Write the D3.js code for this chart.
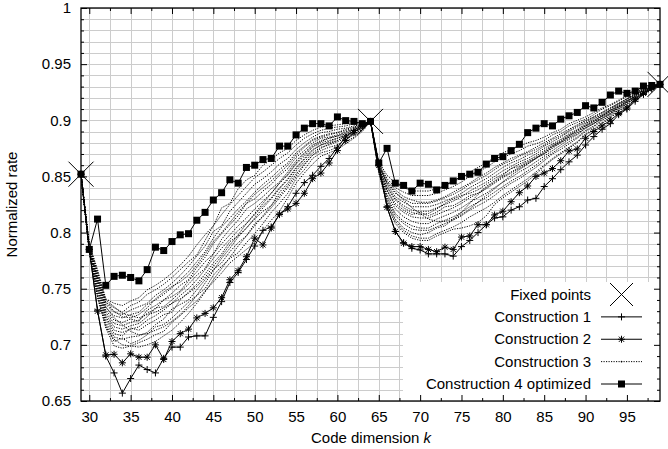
<!DOCTYPE html>
<html>
<head>
<meta charset="utf-8">
<script src="https://cdn.jsdelivr.net/npm/d3@7/dist/d3.min.js"></script>
<style>
  html, body { margin: 0; padding: 0; background: #fff; }
  svg { display: block; font-family: "Liberation Sans", Arial, Helvetica, sans-serif; }
</style>
</head>
<body>
<div id="chart"></div>
<script>
// code dimensions k
const codeDims = [29,30,31,32,33,34,35,36,37,38,39,40,41,42,43,44,45,46,47,48,49,50,51,52,53,54,55,56,57,58,59,60,61,62,63,64,
  65,66,67,68,69,70,71,72,73,74,75,76,77,78,79,80,81,82,83,84,85,86,87,88,89,90,91,92,93,94,95,96,97,98,99];

const fixedK = [29, 64, 99];
const fixedRate = [0.852, 0.899, 0.932];

const construction1 = [.852,.785,.731,.690,.675,.657,.670,.682,.678,.675,.688,.698,.698,.707,.708,.708,.7245,.7385,.7555,.7645,.776,.788,.802,.805,.816,.823,.835,.8445,.851,.859,.866,.876,.885,.891,.896,.899,
  .860,.823,.801,.791,.786,.7845,.781,.781,.781,.779,.7875,.793,.800,.807,.813,.814,.820,.823,.829,.8305,.841,.848,.856,.863,.869,.878,.8855,.892,.897,.905,.910,.917,.923,.928,.932];

const construction2 = [.852,.785,.730,.691,.6916,.684,.692,.689,.689,.700,.687,.703,.710,.714,.724,.728,.733,.742,.758,.766,.7785,.795,.789,.804,.8165,.821,.826,.835,.848,.853,.862,.873,.882,.889,.895,.899,
  .860,.8225,.801,.7905,.7875,.7875,.785,.783,.787,.785,.796,.797,.807,.807,.8157,.819,.8275,.8355,.8415,.850,.853,.857,.864,.8726,.8745,.884,.890,.895,.900,.906,.911,.9187,.924,.929,.932];

const construction4 = [.852,.785,.812,.753,.761,.762,.760,.757,.767,.787,.784,.792,.798,.799,.811,.818,.829,.8355,.847,.844,.858,.860,.865,.866,.877,.877,.887,.893,.897,.897,.895,.903,.8997,.899,.897,.899,
  .862,.875,.844,.842,.837,.844,.843,.838,.842,.846,.850,.852,.8537,.861,.866,.8676,.873,.8786,.889,.893,.897,.895,.901,.904,.907,.913,.911,.916,.9225,.926,.924,.926,.9305,.931,.932];

// construction 3: one run per row
const construction3 = [
  [.852,.782,.743,.715,.699,.697,.699,.702,.705,.709,.712,.720,.726,.733,.739,.748,.756,.764,.773,.779,.785,.791,.802,.811,.819,.831,.844,.853,.861,.868,.871,.874,.879,.884,.890,.899,
   .854,.826,.810,.802,.797,.795,.795,.799,.802,.805,.809,.814,.818,.822,.827,.833,.838,.843,.848,.854,.860,.866,.871,.876,.881,.888,.892,.898,.903,.909,.913,.918,.923,.927,.932],
  [.852,.783,.745,.718,.703,.706,.701,.704,.709,.716,.718,.724,.731,.738,.744,.750,.762,.770,.777,.782,.791,.799,.808,.818,.826,.835,.848,.856,.866,.871,.873,.876,.881,.885,.891,.899,
   .856,.834,.821,.814,.810,.808,.808,.812,.815,.818,.822,.827,.831,.835,.840,.845,.849,.854,.858,.863,.868,.873,.878,.883,.887,.893,.897,.902,.906,.912,.916,.921,.925,.928,.932],
  [.852,.784,.748,.720,.707,.705,.707,.708,.711,.718,.723,.732,.736,.740,.749,.758,.767,.773,.783,.791,.797,.808,.814,.822,.831,.840,.850,.860,.869,.873,.876,.878,.883,.887,.892,.899,
   .853,.825,.808,.800,.795,.793,.793,.797,.800,.803,.804,.806,.809,.815,.825,.831,.836,.841,.846,.852,.859,.865,.870,.875,.880,.887,.891,.897,.902,.908,.912,.918,.923,.927,.932],
  [.852,.784,.750,.723,.710,.708,.715,.713,.718,.722,.727,.729,.740,.747,.754,.763,.773,.781,.792,.797,.804,.812,.819,.824,.836,.844,.855,.863,.871,.876,.878,.881,.884,.888,.892,.899,
   .859,.841,.830,.824,.820,.819,.819,.822,.825,.828,.832,.837,.841,.845,.850,.855,.859,.863,.866,.870,.875,.879,.883,.888,.892,.897,.901,.905,.909,.914,.918,.923,.927,.929,.932],
  [.852,.785,.752,.725,.713,.711,.714,.716,.722,.726,.731,.737,.744,.750,.758,.767,.777,.786,.794,.802,.808,.816,.824,.831,.840,.848,.858,.866,.874,.878,.880,.882,.886,.889,.893,.899,
   .855,.830,.815,.808,.803,.802,.802,.805,.808,.811,.815,.820,.824,.828,.833,.839,.844,.848,.853,.858,.864,.870,.874,.879,.884,.890,.894,.900,.904,.910,.914,.920,.924,.928,.932],
  [.852,.786,.754,.727,.716,.714,.717,.719,.725,.733,.734,.740,.747,.754,.762,.768,.781,.790,.798,.806,.813,.821,.828,.835,.844,.851,.861,.868,.876,.880,.882,.884,.887,.890,.894,.899,
   .860,.844,.835,.830,.826,.826,.826,.828,.831,.834,.838,.843,.847,.851,.856,.861,.864,.868,.871,.874,.878,.883,.886,.891,.895,.899,.903,.907,.911,.915,.919,.924,.927,.930,.932],
  [.852,.786,.756,.729,.719,.717,.720,.722,.728,.732,.740,.743,.748,.757,.765,.774,.781,.794,.803,.811,.821,.826,.832,.839,.845,.854,.864,.871,.878,.882,.884,.886,.888,.891,.894,.899,
   .857,.837,.824,.818,.814,.813,.813,.816,.819,.822,.826,.831,.835,.839,.844,.849,.853,.857,.861,.866,.871,.876,.880,.885,.889,.894,.898,.903,.907,.912,.916,.922,.926,.929,.932],
  [.852,.787,.757,.731,.722,.720,.723,.721,.731,.735,.740,.746,.753,.758,.769,.778,.790,.799,.807,.815,.826,.830,.837,.843,.851,.857,.867,.873,.880,.884,.885,.887,.890,.892,.895,.899,
   .862,.848,.840,.836,.833,.833,.833,.835,.838,.841,.845,.850,.854,.858,.863,.867,.870,.873,.877,.879,.882,.887,.890,.895,.898,.901,.905,.910,.913,.917,.921,.925,.928,.931,.932],
  [.852,.788,.760,.733,.726,.724,.727,.729,.736,.740,.745,.751,.758,.765,.774,.783,.795,.805,.813,.821,.828,.836,.843,.849,.856,.862,.871,.877,.883,.886,.888,.889,.892,.894,.896,.899,
   .858,.838,.826,.820,.816,.818,.815,.818,.823,.824,.828,.833,.835,.841,.846,.851,.857,.859,.863,.867,.870,.877,.881,.886,.891,.895,.899,.904,.908,.913,.917,.922,.926,.929,.932],
  [.852,.788,.762,.736,.729,.727,.731,.734,.737,.744,.749,.755,.762,.770,.779,.788,.801,.806,.819,.827,.835,.843,.848,.854,.861,.866,.874,.880,.885,.889,.890,.892,.893,.895,.896,.899,
   .863,.851,.844,.840,.837,.837,.837,.839,.842,.845,.849,.854,.858,.862,.867,.871,.874,.877,.880,.882,.885,.889,.892,.897,.900,.903,.907,.911,.914,.918,.922,.926,.929,.931,.932],
  [.852,.789,.765,.738,.733,.729,.735,.738,.745,.749,.754,.760,.767,.774,.780,.793,.806,.816,.825,.833,.841,.849,.854,.860,.866,.871,.878,.884,.888,.891,.893,.894,.895,.897,.897,.899,
   .860,.843,.832,.827,.823,.823,.823,.825,.828,.831,.835,.840,.844,.848,.853,.858,.862,.865,.869,.872,.877,.881,.885,.890,.894,.898,.902,.906,.910,.915,.919,.923,.927,.930,.932],
  [.852,.790,.767,.741,.737,.735,.739,.742,.749,.753,.758,.764,.771,.779,.789,.798,.806,.822,.826,.839,.847,.851,.860,.865,.871,.875,.882,.887,.891,.894,.895,.896,.897,.898,.898,.899,
   .856,.832,.817,.810,.806,.804,.804,.808,.811,.814,.818,.823,.827,.831,.836,.841,.846,.850,.855,.860,.866,.871,.876,.881,.885,.891,.895,.901,.905,.911,.915,.920,.925,.928,.932],
  [.852,.783,.742,.716,.705,.700,.699,.698,.700,.703,.708,.713,.720,.728,.737,.747,.758,.768,.778,.788,.797,.806,.815,.824,.833,.842,.852,.861,.869,.875,.879,.882,.886,.889,.893,.899,
   .857,.840,.829,.822,.818,.816,.817,.821,.826,.830,.833,.835,.838,.843,.848,.852,.857,.861,.864,.868,.873,.878,.882,.887,.891,.896,.900,.904,.909,.913,.917,.922,.926,.929,.932],
  [.852,.789,.764,.740,.734,.728,.726,.724,.727,.729,.733,.737,.741,.746,.752,.760,.770,.779,.789,.798,.808,.817,.826,.835,.844,.852,.862,.870,.877,.881,.884,.886,.889,.892,.895,.899,
   .855,.828,.812,.804,.800,.798,.800,.804,.806,.812,.818,.826,.834,.840,.845,.850,.854,.858,.862,.866,.870,.875,.880,.884,.888,.893,.897,.902,.906,.911,.915,.920,.924,.928,.932],
  [.852,.787,.758,.734,.724,.718,.712,.709,.710,.713,.716,.721,.727,.735,.744,.755,.766,.777,.786,.796,.804,.813,.822,.830,.839,.847,.857,.865,.873,.878,.881,.884,.887,.890,.894,.899,
   .859,.845,.836,.829,.822,.817,.812,.810,.810,.812,.816,.821,.827,.833,.839,.845,.851,.856,.861,.866,.872,.877,.881,.886,.890,.895,.899,.904,.908,.912,.917,.921,.925,.929,.932],
  [.852,.786,.760,.738,.730,.725,.724,.727,.733,.741,.747,.752,.756,.762,.771,.781,.792,.800,.809,.818,.826,.834,.840,.846,.853,.860,.869,.876,.882,.885,.887,.889,.891,.893,.896,.899,
   .861,.846,.838,.832,.829,.827,.827,.829,.832,.836,.840,.844,.849,.853,.858,.862,.866,.869,.872,.876,.880,.884,.888,.892,.896,.900,.903,.907,.911,.915,.919,.923,.927,.930,.932]
];

const xTicks = [30, 35, 40, 45, 50, 55, 60, 65, 70, 75, 80, 85, 90, 95];
const xMinorTicks = [32.5, 37.5, 42.5, 47.5, 52.5, 57.5, 62.5, 67.5, 72.5, 77.5, 82.5, 87.5, 92.5, 97.5];
const yTicks = [0.65, 0.7, 0.75, 0.8, 0.85, 0.9, 0.95, 1];
const yTickLabels = ["0.65", "0.7", "0.75", "0.8", "0.85", "0.9", "0.95", "1"];
const yMinorTicks = [0.66,0.67,0.68,0.69,0.71,0.72,0.73,0.74,0.76,0.77,0.78,0.79,0.81,0.82,0.83,0.84,
  0.86,0.87,0.88,0.89,0.91,0.92,0.93,0.94,0.96,0.97,0.98,0.99];

const legendLabels = ["Fixed points", "Construction 1", "Construction 2", "Construction 3", "Construction 4 optimized"];

const width = 668, height = 449;
const margin = { top: 8, right: 8, bottom: 48, left: 81 };
const plotW = width - margin.left - margin.right;
const plotH = height - margin.top - margin.bottom;

const svg = d3.select('#chart').append('svg')
  .attr('width', width)
  .attr('height', height);

const x = d3.scaleLinear().domain([29, 99]).range([margin.left, margin.left + plotW]);
const y = d3.scaleLinear().domain([0.65, 1]).range([margin.top + plotH, margin.top]);

// grid
const grid = svg.append('g').attr('stroke', '#cccccc').attr('stroke-width', 1);
grid.selectAll('.gx')
  .data(xTicks.concat(xMinorTicks))
  .enter().append('line')
  .attr('x1', d => Math.round(x(d)) + 0.5).attr('x2', d => Math.round(x(d)) + 0.5)
  .attr('y1', margin.top).attr('y2', margin.top + plotH);
grid.selectAll('.gy')
  .data(yTicks.concat(yMinorTicks))
  .enter().append('line')
  .attr('y1', d => Math.round(y(d)) + 0.5).attr('y2', d => Math.round(y(d)) + 0.5)
  .attr('x1', margin.left).attr('x2', margin.left + plotW);

// opaque key area
const keyBox = { x0: 403, y0: 282 };
svg.append('rect')
  .attr('x', keyBox.x0).attr('y', keyBox.y0)
  .attr('width', margin.left + plotW - keyBox.x0)
  .attr('height', margin.top + plotH - keyBox.y0)
  .attr('fill', '#fff');

const line = d3.line().x((d, i) => x(codeDims[i])).y(d => y(d));

// construction 3 runs
svg.append('g').selectAll('path')
  .data(construction3)
  .enter().append('path')
  .attr('d', line)
  .attr('fill', 'none')
  .attr('stroke', '#000')
  .attr('stroke-width', 1)
  .attr('stroke-dasharray', '1.2,1.3');

function plusPath(r) { return `M${-r},0H${r}M0,${-r}V${r}`; }
function starPath(r) {
  const a = r * 0.75;
  return plusPath(r) + `M${-a},${-a}L${a},${a}M${-a},${a}L${a},${-a}`;
}

function drawSeries(values, marker) {
  const g = svg.append('g');
  g.append('path')
    .attr('d', line(values))
    .attr('fill', 'none')
    .attr('stroke', '#000')
    .attr('stroke-width', 1);
  const pts = g.selectAll('.pt')
    .data(values)
    .enter();
  if (marker === 'square') {
    pts.append('rect')
      .attr('x', (d, i) => x(codeDims[i]) - 3.5)
      .attr('y', d => y(d) - 3.5)
      .attr('width', 7).attr('height', 7)
      .attr('fill', '#000');
  } else {
    pts.append('path')
      .attr('transform', (d, i) => `translate(${x(codeDims[i])},${y(d)})`)
      .attr('d', marker === 'plus' ? plusPath(3.5) : starPath(3.5))
      .attr('stroke', '#000')
      .attr('stroke-width', 1)
      .attr('fill', 'none');
  }
}

drawSeries(construction1, 'plus');
drawSeries(construction2, 'star');
drawSeries(construction4, 'square');

// fixed points
svg.append('g').selectAll('path')
  .data(fixedRate)
  .enter().append('path')
  .attr('transform', (d, i) => `translate(${x(fixedK[i])},${y(d)})`)
  .attr('d', 'M-12.5,-12.5L12.5,12.5M-12.5,12.5L12.5,-12.5')
  .attr('stroke', '#000')
  .attr('stroke-width', 1);

// axes
const fontSize = 15;
function styleAxis(g) {
  g.select('.domain').remove();
  g.selectAll('line').attr('stroke', '#000');
  g.selectAll('text').attr('font-size', fontSize).attr('font-family', null).attr('fill', '#000');
}

svg.append('g')
  .attr('transform', `translate(0,${margin.top + plotH})`)
  .call(d3.axisBottom(x).tickValues(xTicks).tickSizeInner(-6).tickSizeOuter(0).tickPadding(10))
  .call(styleAxis);
svg.append('g')
  .attr('transform', `translate(0,${margin.top + plotH})`)
  .call(d3.axisBottom(x).tickValues(xMinorTicks).tickSizeInner(-3).tickSizeOuter(0).tickFormat(''))
  .call(styleAxis);
svg.append('g')
  .attr('transform', `translate(0,${margin.top})`)
  .call(d3.axisTop(x).tickValues(xTicks).tickSizeInner(-6).tickSizeOuter(0).tickFormat(''))
  .call(styleAxis);
svg.append('g')
  .attr('transform', `translate(0,${margin.top})`)
  .call(d3.axisTop(x).tickValues(xMinorTicks).tickSizeInner(-3).tickSizeOuter(0).tickFormat(''))
  .call(styleAxis);

svg.append('g')
  .attr('transform', `translate(${margin.left},0)`)
  .call(d3.axisLeft(y).tickValues(yTicks).tickSizeInner(-6).tickSizeOuter(0).tickPadding(10)
    .tickFormat((d, i) => yTickLabels[i]))
  .call(styleAxis);
svg.append('g')
  .attr('transform', `translate(${margin.left},0)`)
  .call(d3.axisLeft(y).tickValues(yMinorTicks).tickSizeInner(-3).tickSizeOuter(0).tickFormat(''))
  .call(styleAxis);
svg.append('g')
  .attr('transform', `translate(${margin.left + plotW},0)`)
  .call(d3.axisRight(y).tickValues(yTicks).tickSizeInner(-6).tickSizeOuter(0).tickFormat(''))
  .call(styleAxis);
svg.append('g')
  .attr('transform', `translate(${margin.left + plotW},0)`)
  .call(d3.axisRight(y).tickValues(yMinorTicks).tickSizeInner(-3).tickSizeOuter(0).tickFormat(''))
  .call(styleAxis);

// frame
svg.append('rect')
  .attr('x', margin.left).attr('y', margin.top)
  .attr('width', plotW).attr('height', plotH)
  .attr('fill', 'none')
  .attr('stroke', '#000')
  .attr('stroke-width', 1.3);

// axis titles
const xTitle = svg.append('text')
  .attr('x', 371).attr('y', 443)
  .attr('text-anchor', 'middle')
  .attr('font-size', fontSize)
  .text('Code dimension ');
xTitle.append('tspan').attr('font-style', 'italic').text('k');

svg.append('text')
  .attr('transform', `translate(16.5,${margin.top + plotH / 2}) rotate(-90)`)
  .attr('text-anchor', 'middle')
  .attr('font-size', fontSize)
  .text('Normalized rate');

// legend
const legend = svg.append('g');
const rowY = d3.scaleLinear().domain([0, 4]).range([294.5, 384]);
const textX = 591, sx0 = 601, sx1 = 642, sxm = 621.5;

legend.selectAll('text')
  .data(legendLabels)
  .enter().append('text')
  .attr('x', textX)
  .attr('y', (d, i) => rowY(i) + 5)
  .attr('text-anchor', 'end')
  .attr('font-size', fontSize)
  .text(d => d);

// fixed points sample
legend.append('path')
  .attr('transform', `translate(${sxm},${rowY(0)})`)
  .attr('d', 'M-11.5,-11.5L11.5,11.5M-11.5,11.5L11.5,-11.5')
  .attr('stroke', '#000');
// construction 1, 2, 4 samples
[[1, 'plus'], [2, 'star'], [4, 'square']].forEach(([row, marker]) => {
  legend.append('line')
    .attr('x1', sx0).attr('x2', sx1)
    .attr('y1', rowY(row)).attr('y2', rowY(row))
    .attr('stroke', '#000');
  if (marker === 'square') {
    legend.append('rect')
      .attr('x', sxm - 3.5).attr('y', rowY(row) - 3.5)
      .attr('width', 7).attr('height', 7).attr('fill', '#000');
  } else {
    legend.append('path')
      .attr('transform', `translate(${sxm},${rowY(row)})`)
      .attr('d', marker === 'plus' ? plusPath(3.5) : starPath(3.5))
      .attr('stroke', '#000').attr('fill', 'none');
  }
});
// construction 3 sample
legend.append('line')
  .attr('x1', sx0).attr('x2', sx1)
  .attr('y1', rowY(3)).attr('y2', rowY(3))
  .attr('stroke', '#000')
  .attr('stroke-width', 1)
  .attr('stroke-dasharray', '1.2,1.3');
legend.append('circle')
  .attr('cx', sxm).attr('cy', rowY(3)).attr('r', 0.8).attr('fill', '#000');
</script>
</body>
</html>
